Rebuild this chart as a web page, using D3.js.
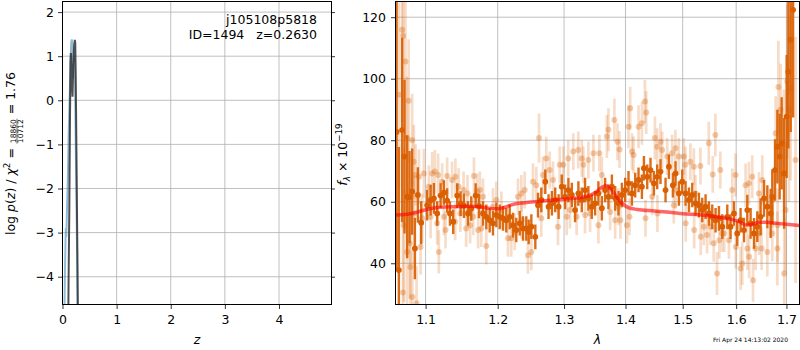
<!DOCTYPE html>
<html>
<head>
<meta charset="utf-8">
<script src="https://cdn.jsdelivr.net/npm/d3@7"></script>
<style>
  body { margin: 0; background: #fff; }
  text { font-family: "DejaVu Sans", sans-serif; }
</style>
</head>
<body>
<svg id="chart" width="800" height="350"></svg>
<script>
// p(z), coarse grid (blue) and fine grid (dark)
const zCoarse = [0.030, 0.037, 0.048, 0.060, 0.070, 0.080, 0.098, 0.117, 0.141, 0.160, 0.172, 0.190, 0.200, 0.215, 0.230, 0.250, 0.270, 0.290]
const logpCoarse = [-6.0, -4.65, -3.7, -2.9, -3.1, -2.6, -1.8, -0.6, 0.46, 1.3, 1.38, 1.1, 0.5, 1.0, 0.6, -1.5, -3.5, -6.0]
const zFine = [0.100, 0.113, 0.125, 0.138, 0.148, 0.155, 0.168, 0.185, 0.200, 0.215, 0.228, 0.236, 0.245, 0.260, 0.275, 0.292]
const logpFine = [-6.0, -4.0, -2.6, -0.5, 0.9, 1.07, 0.6, 0.08, 0.8, 1.25, 1.37, 1.3, 0.5, -1.5, -3.5, -6.0]

const zTicks = [0, 1, 2, 3, 4]
const logpTicks = [-4, -3, -2, -1, 0, 1, 2]

// spectrum: binned points
const darkWave = [1.0622, 1.0651, 1.0693, 1.0724, 1.0758, 1.0789, 1.0823, 1.0859, 1.0898, 1.0942,
  1.1021, 1.1067, 1.1111, 1.1155, 1.1201, 1.1246, 1.1290, 1.1328, 1.1373, 1.1428,
  1.1475, 1.1521, 1.1577, 1.1623, 1.1685, 1.1732, 1.1789, 1.1836, 1.1884, 1.1932,
  1.1980, 1.2029, 1.2077, 1.2125, 1.2175, 1.2224, 1.2272, 1.2323, 1.2372, 1.2421,
  1.2457, 1.2497, 1.2557, 1.2598, 1.2648, 1.2709, 1.2759, 1.2811, 1.2862, 1.2915,
  1.2964, 1.3016, 1.3068, 1.3122, 1.3174, 1.3227, 1.3281, 1.3334, 1.3387, 1.3442,
  1.3496, 1.3550, 1.3606, 1.3660, 1.3715, 1.3772, 1.3827, 1.3882, 1.3939, 1.3995,
  1.4051, 1.4109, 1.4165, 1.4222, 1.4280, 1.4315, 1.4372, 1.4429, 1.4488, 1.4546,
  1.4604, 1.4693, 1.4753, 1.4824, 1.4871, 1.4932, 1.4992, 1.5052, 1.5114, 1.5174,
  1.5235, 1.5297, 1.5358, 1.5420, 1.5483, 1.5545, 1.5607, 1.5671, 1.5734, 1.5829,
  1.5892, 1.5957, 1.6021, 1.6085, 1.6151, 1.6216, 1.6281, 1.6348, 1.6413, 1.6479,
  1.6547, 1.6613, 1.6679, 1.6713, 1.6768, 1.6815, 1.6861, 1.6902, 1.6952, 1.7005,
  1.7040, 1.7088, 1.7137]
const darkFlux = [82.7, 37.8, 83.3, 74.7, 61.6, 61.5, 63.3, 44.8, 62.2, 53.2,
  58.9, 60.5, 61.1, 56.2, 62.0, 63.0, 60.4, 56.2, 53.5, 62.0,
  59.4, 58.7, 56.2, 57.8, 62.0, 58.6, 56.2, 55.1, 54.0, 53.0,
  55.7, 55.1, 54.6, 54.0, 55.1, 52.4, 50.8, 53.0, 51.3, 51.3,
  50.2, 51.9, 48.6, 58.9, 60.6, 66.5, 58.4, 59.5, 60.6, 58.4,
  64.9, 61.6, 63.8, 62.2, 57.3, 62.7, 60.6, 63.8, 61.1, 58.4,
  59.5, 62.7, 57.9, 63.8, 61.6, 64.9, 61.1, 59.5, 62.2, 63.8,
  66.0, 62.7, 65.4, 67.1, 64.9, 70.9, 68.1, 70.3, 66.0, 68.1,
  69.8, 63.8, 71.4, 65.4, 69.2, 62.7, 66.5, 62.7, 60.6, 62.2,
  59.5, 58.9, 57.3, 58.4, 56.2, 55.1, 54.0, 54.6, 51.9, 55.1,
  51.9, 56.2, 49.7, 54.0, 50.8, 57.3, 53.0, 49.7, 51.9, 55.1,
  61.1, 58.4, 56.2, 61.6, 70.3, 77.9, 74.7, 79.0, 69.2, 87.7,
  102.3, 112.7, 122.4]
const darkErr = [45, 40, 30, 25, 20, 15, 14, 10, 9, 7,
  5, 5, 5, 4, 4, 4, 4, 4, 4, 4,
  4, 4, 4, 4, 4, 4, 4, 4, 4, 4,
  4, 4, 4, 4, 4, 4, 4, 4, 4, 4,
  4, 4, 4, 4, 4, 4, 4, 4, 4, 4,
  4, 4, 4, 4, 4, 4, 4, 4, 4, 4,
  4, 4, 4, 4, 4, 4, 4, 4, 4, 4,
  4, 4, 4, 4, 4, 4, 4, 4, 4, 4,
  4, 4, 4, 4, 4, 4, 4, 4, 4, 4,
  4, 4, 4, 4, 4, 4, 4, 4, 4, 4,
  4, 4, 4, 4, 4, 5, 5, 5, 5, 6,
  6, 7, 8, 9, 10, 12, 14, 15, 18, 20,
  25, 30, 35]

// spectrum: unbinned points (faint)
const lightWave = [1.0651, 1.0693, 1.0704, 1.0706, 1.0715, 1.0736, 1.0756, 1.0758, 1.0778, 1.0791,
  1.0800, 1.0823, 1.0826, 1.0845, 1.0848, 1.0868, 1.0881, 1.0912, 1.0934, 1.0955,
  1.0977, 1.1044, 1.1067, 1.1088, 1.1124, 1.1155, 1.1168, 1.1177, 1.1222, 1.1246,
  1.1268, 1.1290, 1.1357, 1.1400, 1.1403, 1.1448, 1.1471, 1.1516, 1.1552, 1.1570,
  1.1607, 1.1652, 1.1661, 1.1706, 1.1720, 1.1745, 1.1765, 1.1789, 1.1836, 1.1932,
  1.1980, 1.2053, 1.2150, 1.2198, 1.2248, 1.2297, 1.2347, 1.2350, 1.2397, 1.2446,
  1.2497, 1.2522, 1.2572, 1.2613, 1.2648, 1.2674, 1.2724, 1.2777, 1.2828, 1.2905,
  1.2932, 1.2988, 1.3041, 1.3066, 1.3093, 1.3145, 1.3199, 1.3225, 1.3281, 1.3306,
  1.3334, 1.3387, 1.3414, 1.3469, 1.3550, 1.3566, 1.3606, 1.3689, 1.3715, 1.3743,
  1.3814, 1.3827, 1.3865, 1.3882, 1.3899, 1.3915, 1.4023, 1.4051, 1.4068, 1.4079,
  1.4109, 1.4136, 1.4222, 1.4280, 1.4332, 1.4342, 1.4354, 1.4458, 1.4506, 1.4546,
  1.4550, 1.4604, 1.4633, 1.4722, 1.4810, 1.4840, 1.4869, 1.4875, 1.4930, 1.5020,
  1.5049, 1.5055, 1.5140, 1.5203, 1.5209, 1.5232, 1.5324, 1.5330, 1.5387, 1.5448,
  1.5480, 1.5510, 1.5554, 1.5573, 1.5603, 1.5635, 1.5678, 1.5697, 1.5729, 1.5772,
  1.5861, 1.5924, 1.5988, 1.5993, 1.6085, 1.6118, 1.6183, 1.6216, 1.6249, 1.6253,
  1.6314, 1.6328, 1.6379, 1.6446, 1.6450, 1.6498, 1.6512, 1.6613, 1.6713, 1.6718,
  1.6780, 1.6815, 1.6820, 1.6835, 1.6881, 1.6950, 1.6955, 1.6983, 1.7017, 1.7052,
  1.7085, 1.7188]
const lightFlux = [94.8, 115.9, 30.5, 114.0, 52.4, 105.6, 43.7, 80.7, 92.8, 46.5,
  38.8, 80.1, 29.0, 73.0, 56.2, 68.7, 27.0, 68.1, 45.3, 54.6,
  69.2, 64.9, 55.1, 69.2, 69.8, 53.0, 68.7, 43.7, 66.5, 55.1,
  50.8, 68.4, 67.1, 53.5, 68.1, 64.9, 56.2, 63.8, 51.3, 62.7,
  52.4, 55.1, 68.4, 63.3, 50.8, 63.8, 51.3, 61.6, 45.6, 58.4,
  60.6, 57.3, 48.1, 48.1, 50.2, 61.6, 62.7, 54.0, 63.8, 42.6,
  43.7, 66.5, 65.4, 80.7, 54.6, 68.7, 74.1, 70.3, 67.1, 51.9,
  72.0, 72.0, 55.1, 74.1, 57.3, 76.3, 55.1, 76.8, 74.1, 72.0,
  55.7, 73.6, 56.2, 75.8, 52.4, 75.8, 68.7, 81.2, 83.4, 56.7,
  86.6, 54.0, 79.5, 58.4, 77.0, 54.0, 52.4, 84.4, 55.1, 90.4,
  76.3, 75.2, 84.4, 85.5, 92.6, 54.6, 89.0, 61.6, 80.7, 77.9,
  56.2, 79.5, 76.8, 74.7, 75.8, 58.9, 77.4, 63.8, 74.7, 74.7,
  72.0, 53.0, 73.0, 71.4, 50.8, 62.7, 71.6, 48.6, 51.9, 49.2,
  79.0, 51.9, 68.9, 46.5, 81.7, 36.7, 47.5, 70.3, 49.7, 49.7,
  47.5, 63.8, 68.7, 45.3, 38.3, 39.9, 65.4, 44.8, 66.0, 42.1,
  68.1, 34.5, 44.8, 62.7, 49.7, 44.8, 67.1, 43.7, 49.7, 60.6,
  82.3, 44.8, 52.4, 97.3, 89.9, 78.5, 36.7, 57.3, 99.1, 89.9,
  96.9, 73.6]
const lightErr = [30, 30, 25, 30, 25, 25, 20, 20, 20, 18,
  18, 15, 15, 12, 12, 10, 12, 9, 9, 8,
  8, 7, 7, 7, 7, 7, 7, 7, 6, 6,
  6, 6, 6, 6, 6, 6, 6, 6, 6, 6,
  6, 6, 6, 6, 6, 6, 6, 6, 6, 6,
  6, 6, 6, 6, 6, 6, 6, 6, 6, 6,
  6, 6, 6, 8, 6, 6, 7, 6, 6, 6,
  6, 6, 6, 6, 6, 6, 6, 6, 6, 6,
  6, 6, 6, 6, 6, 6, 6, 7, 7, 6,
  7, 6, 6, 6, 6, 6, 6, 7, 6, 7,
  6, 6, 7, 7, 7, 6, 7, 6, 7, 6,
  6, 6, 6, 6, 6, 6, 6, 6, 6, 6,
  6, 6, 6, 6, 6, 6, 6, 6, 6, 6,
  7, 6, 6, 6, 7, 7, 6, 6, 6, 6,
  6, 7, 7, 7, 7, 7, 7, 7, 7, 7,
  7, 7, 7, 7, 7, 7, 8, 8, 9, 9,
  12, 12, 12, 15, 15, 18, 18, 20, 25, 30,
  30, 40]

// best-fit model
const modelWave = [1.061, 1.08, 1.10, 1.12, 1.14, 1.16, 1.175, 1.19, 1.20, 1.21,
  1.22, 1.24, 1.26, 1.28, 1.30, 1.32, 1.34, 1.35, 1.36, 1.367,
  1.375, 1.385, 1.395, 1.405, 1.42, 1.45, 1.48, 1.50, 1.53, 1.56,
  1.59, 1.605, 1.62, 1.63, 1.645, 1.66, 1.68, 1.70, 1.727]
const modelFlux = [55.7, 56.1, 57.4, 58.2, 58.4, 58.5, 58.3, 57.8, 57.7, 58.2,
  59.0, 59.7, 60.1, 60.5, 60.8, 61.2, 62.0, 63.0, 64.6, 65.2,
  64.2, 61.6, 59.4, 58.1, 57.5, 57.0, 56.5, 56.1, 55.8, 55.2,
  54.3, 53.6, 52.4, 52.6, 53.3, 53.3, 53.0, 52.7, 52.3]

const waveTicks = [1.1, 1.2, 1.3, 1.4, 1.5, 1.6, 1.7]
const fluxTicks = [40, 60, 80, 100, 120]

const orange = '#d95f02'
const font = '"DejaVu Sans", sans-serif'

const svg = d3.select('#chart')

const boxL = { x0: 62.5, x1: 331.5, y0: 1.5, y1: 304.5 }
const boxR = { x0: 395.5, x1: 799.5, y0: 1.5, y1: 304.5 }

const xZ = d3.scaleLinear().domain([0, 4.97]).range([boxL.x0, boxL.x1])
const yP = d3.scaleLinear().domain([-4.63, 2.24]).range([boxL.y1, boxL.y0])
const xW = d3.scaleLog().domain([1.0608, 1.727]).range([boxR.x0, boxR.x1])
const yF = d3.scaleLinear().domain([26.6, 125.1]).range([boxR.y1, boxR.y0])

const defs = svg.append('defs')
const clip = (id, box) => {
  defs.append('clipPath').attr('id', id).append('rect')
    .attr('x', box.x0).attr('y', box.y0)
    .attr('width', box.x1 - box.x0).attr('height', box.y1 - box.y0)
}
clip('clipL', boxL)
clip('clipR', boxR)

const drawGrid = (xs, ys, xs_, ys_, box) => {
  const g = svg.append('g').attr('stroke', '#b0b0b0').attr('stroke-width', 0.8)
  g.selectAll('line.gx').data(xs).join('line')
    .attr('x1', d => xs_(d)).attr('x2', d => xs_(d))
    .attr('y1', box.y0).attr('y2', box.y1)
  g.selectAll('line.gy').data(ys).join('line')
    .attr('x1', box.x0).attr('x2', box.x1)
    .attr('y1', d => ys_(d)).attr('y2', d => ys_(d))
}
drawGrid(zTicks, logpTicks, xZ, yP, boxL)
drawGrid(waveTicks, fluxTicks, xW, yF, boxR)

const styleAxis = (g) => {
  g.attr('font-size', 12.5).attr('font-family', font)
  g.select('.domain').remove()
  g.selectAll('.tick line').attr('stroke', '#000').attr('stroke-width', 0.8)
  g.selectAll('.tick text').attr('fill', '#000')
}

svg.append('g').attr('transform', `translate(0,${boxL.y1})`)
  .call(d3.axisBottom(xZ).tickValues(zTicks).tickFormat(d3.format('d')).tickSize(4.5).tickPadding(6))
  .call(styleAxis)
svg.append('g').attr('transform', `translate(${boxL.x0},0)`)
  .call(d3.axisLeft(yP).tickValues(logpTicks).tickFormat(d3.format('d')).tickSize(4.5).tickPadding(4))
  .call(styleAxis)
svg.append('g').attr('transform', `translate(${boxL.x1},0)`)
  .call(d3.axisRight(yP).tickValues(logpTicks).tickFormat('').tickSize(3.5))
  .call(styleAxis)
svg.append('g').attr('transform', `translate(0,${boxR.y1})`)
  .call(d3.axisBottom(xW).tickValues(waveTicks).tickFormat(d3.format('.1f')).tickSize(4.5).tickPadding(6))
  .call(styleAxis)
svg.append('g').attr('transform', `translate(${boxR.x0},0)`)
  .call(d3.axisLeft(yF).tickValues(fluxTicks).tickFormat(d3.format('d')).tickSize(4.5).tickPadding(5))
  .call(styleAxis)

// p(z) curves
const pzG = svg.append('g').attr('clip-path', 'url(#clipL)').attr('fill', 'none')
const pzLine = d3.line().x(d => xZ(d[0])).y(d => yP(d[1]))
pzG.append('path').datum(d3.zip(zCoarse, logpCoarse)).attr('d', pzLine)
  .attr('stroke', '#1f77b4').attr('stroke-opacity', 0.5).attr('stroke-width', 2)
pzG.append('path').datum(d3.zip(zFine, logpFine)).attr('d', pzLine)
  .attr('stroke', '#333').attr('stroke-opacity', 0.85).attr('stroke-width', 2)

// spectrum
const specG = svg.append('g').attr('clip-path', 'url(#clipR)')
const drawPoints = (waves, fluxes, errs, barW, barOp, r, dotOp) => {
  const pts = d3.zip(waves, fluxes, errs)
  const g = specG.append('g')
  g.selectAll('line').data(pts).join('line')
    .attr('x1', d => xW(d[0])).attr('x2', d => xW(d[0]))
    .attr('y1', d => yF(d[1] - d[2])).attr('y2', d => yF(d[1] + d[2]))
    .attr('stroke', orange).attr('stroke-width', barW).attr('stroke-opacity', barOp)
  g.selectAll('circle').data(pts).join('circle')
    .attr('cx', d => xW(d[0])).attr('cy', d => yF(d[1])).attr('r', r)
    .attr('fill', orange).attr('fill-opacity', dotOp)
}
drawPoints(lightWave, lightFlux, lightErr, 2.7, 0.22, 3, 0.32)
drawPoints(darkWave, darkFlux, darkErr, 2.4, 0.92, 2.9, 1)

specG.append('path').datum(d3.zip(modelWave, modelFlux))
  .attr('d', d3.line().x(d => xW(d[0])).y(d => yF(d[1])).curve(d3.curveMonotoneX))
  .attr('fill', 'none').attr('stroke', '#ff0000').attr('stroke-opacity', 0.6).attr('stroke-width', 3.5)

// frames
;[boxL, boxR].forEach(b => {
  svg.append('rect').attr('x', b.x0).attr('y', b.y0)
    .attr('width', b.x1 - b.x0).attr('height', b.y1 - b.y0)
    .attr('fill', 'none').attr('stroke', '#000').attr('stroke-width', 1)
})

// labels
svg.append('text').attr('x', 317).attr('y', 24.3).attr('text-anchor', 'end')
  .attr('font-size', 12.5).text('j105108p5818')
svg.append('text').attr('x', 317).attr('y', 38.7).attr('text-anchor', 'end')
  .attr('font-size', 12.5).style('white-space', 'pre').text('ID=1494   z=0.2630')

svg.append('text').attr('x', (boxL.x0 + boxL.x1) / 2).attr('y', 343.5).attr('text-anchor', 'middle')
  .attr('font-size', 12.5).attr('font-style', 'italic').text('z')
svg.append('text').attr('x', (boxR.x0 + boxR.x1) / 2).attr('y', 344).attr('text-anchor', 'middle')
  .attr('font-size', 12.5).attr('font-style', 'italic').text('λ')

svg.append('text').attr('x', 788).attr('y', 341.5).attr('text-anchor', 'end')
  .attr('font-size', 6).text('Fri Apr 24 14:13:02 2020')

// left y label with a fraction
const ylab = svg.append('g').attr('transform', 'translate(14.5,153.5) rotate(-90)')
const inner = ylab.append('g')
const t1 = inner.append('text').attr('font-size', 12.5).style('white-space', 'pre')
t1.append('tspan').text('log ')
t1.append('tspan').attr('font-style', 'italic').text('p')
t1.append('tspan').text('(')
t1.append('tspan').attr('font-style', 'italic').text('z')
t1.append('tspan').text(') / ')
t1.append('tspan').attr('font-style', 'italic').text('χ')
t1.append('tspan').attr('font-size', 8.75).attr('dy', -5).text('2')
t1.append('tspan').attr('dy', 5).text(' = ')
const w1 = t1.node().getComputedTextLength()
const num = inner.append('text').attr('font-size', 7.5).attr('x', w1 + 1).attr('y', 1.5).text('18860')
const wf = num.node().getComputedTextLength()
inner.append('text').attr('font-size', 7.5).attr('x', w1 + 1).attr('y', 8.5).text('10712')
inner.append('line').attr('x1', w1 + 0.5).attr('x2', w1 + wf + 1.5)
  .attr('y1', 2.5).attr('y2', 2.5).attr('stroke', '#000').attr('stroke-width', 0.6)
const t3 = inner.append('text').attr('font-size', 12.5).attr('x', w1 + wf + 2).style('white-space', 'pre').text(' = 1.76')
const wTot = w1 + wf + 2 + t3.node().getComputedTextLength()
inner.attr('transform', `translate(${-wTot / 2},0)`)

// right y label
const flab = svg.append('g').attr('transform', 'translate(347.3,154.5) rotate(-90)')
const ft = flab.append('text').attr('font-size', 12.5).attr('text-anchor', 'middle').style('white-space', 'pre')
ft.append('tspan').attr('font-style', 'italic').text('f')
ft.append('tspan').attr('font-style', 'italic').attr('font-size', 8.75).attr('dy', 2.5).text('λ')
ft.append('tspan').attr('dy', -2.5).text(' × 10')
ft.append('tspan').attr('font-size', 8.75).attr('dy', -5).text('−19')
</script>
</body>
</html>
